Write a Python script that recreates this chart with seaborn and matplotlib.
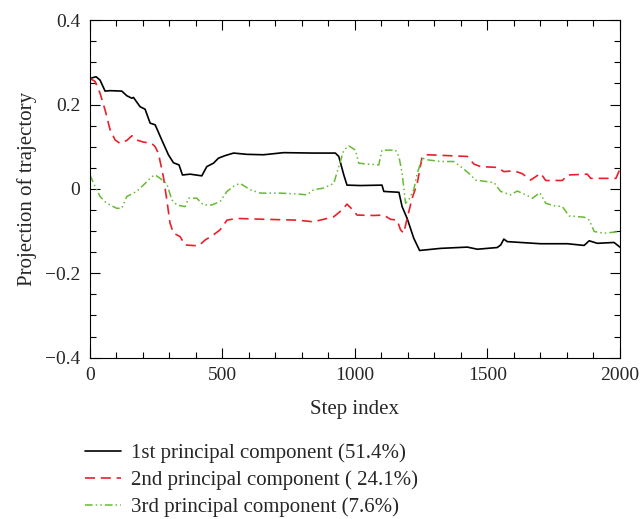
import pandas as pd
import matplotlib
matplotlib.use('Agg')
import matplotlib.pyplot as plt
from matplotlib.ticker import MultipleLocator
import seaborn as sns

# values
pc1_step = [0, 23, 38, 57, 76, 120, 139, 158, 164, 189, 208, 227, 246, 271, 296, 315, 336, 349,
            378, 422, 441, 466, 485, 510, 542, 592, 655, 731, 844, 926, 939, 958, 970, 1021,
            1102, 1109, 1166, 1178, 1197, 1222, 1244, 1323, 1424, 1462, 1537, 1550, 1562,
            1575, 1701, 1802, 1865, 1884, 1915, 1978, 2000]
pc1_val = [0.262, 0.266, 0.258, 0.232, 0.233, 0.232, 0.221, 0.215, 0.217, 0.195, 0.189, 0.156,
           0.152, 0.116, 0.081, 0.062, 0.057, 0.033, 0.035, 0.031, 0.053, 0.061, 0.073, 0.079,
           0.085, 0.082, 0.081, 0.086, 0.085, 0.085, 0.077, 0.033, 0.009, 0.008,
           0.009, -0.006, -0.008, -0.042, -0.070, -0.117, -0.146, -0.141, -0.138, -0.143,
           -0.139, -0.133, -0.119, -0.125, -0.130, -0.130, -0.134, -0.123, -0.129, -0.127, -0.138]

pc2_step = [0, 19, 38, 57, 76, 95, 113, 139, 158, 176, 202, 233, 246, 258, 277, 290, 302, 315,
            340, 359, 410, 435, 466, 491, 517, 554, 655, 781, 844, 920, 951, 970, 989, 1008,
            1071, 1109, 1134, 1159, 1172, 1184, 1197, 1216, 1235, 1254, 1273, 1424, 1449,
            1474, 1537, 1562, 1600, 1632, 1663, 1701, 1720, 1783, 1802, 1877, 1890, 1985, 2000]
pc2_val = [0.262, 0.255, 0.227, 0.187, 0.140, 0.116, 0.108, 0.115, 0.126, 0.116, 0.111, 0.108,
           0.100, 0.085, 0.029, -0.026, -0.081, -0.105, -0.113, -0.133, -0.135, -0.121,
           -0.109, -0.097, -0.074, -0.070, -0.072, -0.074, -0.078, -0.066, -0.050, -0.036,
           -0.048, -0.062, -0.063, -0.062, -0.072, -0.074, -0.097, -0.105, -0.070, -0.022,
           0.013, 0.077, 0.081, 0.077, 0.059, 0.053, 0.051, 0.041, 0.043, 0.036, 0.021, 0.037,
           0.020, 0.020, 0.033, 0.035, 0.025, 0.025, 0.047]

pc3_step = [0, 19, 38, 63, 101, 120, 139, 176, 208, 233, 246, 265, 290, 309, 328, 359, 372,
            403, 428, 460, 491, 517, 548, 567, 605, 643, 718, 781, 819, 844, 882, 920, 939,
            958, 977, 1002, 1014, 1046, 1090, 1102, 1153, 1166, 1178, 1191, 1203, 1222, 1235,
            1254, 1273, 1323, 1373, 1399, 1430, 1455, 1525, 1550, 1588, 1613, 1644, 1670,
            1698, 1720, 1751, 1783, 1808, 1865, 1884, 1903, 1940, 2000]
pc3_val = [0.033, 0.006, -0.018, -0.034, -0.046, -0.046, -0.018, -0.006, 0.013, 0.029, 0.033,
           0.025, 0.012, -0.026, -0.038, -0.042, -0.022, -0.022, -0.038, -0.038, -0.030,
           -0.006, 0.009, 0.013, -0.002, -0.010, -0.010, -0.012, -0.014, -0.002, 0.002, 0.013,
           0.053, 0.092, 0.102, 0.092, 0.061, 0.059, 0.057, 0.092, 0.092, 0.077, 0.037,
           -0.034, -0.026, -0.002, 0.037, 0.073, 0.069, 0.065, 0.065, 0.053, 0.037, 0.021,
           0.015, -0.006, -0.014, -0.005, -0.014, -0.022, -0.009, -0.034, -0.040, -0.042,
           -0.064, -0.067, -0.074, -0.101, -0.105, -0.101]

labels = ['1st principal component (51.4%)',
          '2nd principal component ( 24.1%)',
          '3rd principal component (7.6%)']
y_ticks = [-0.4, -0.2, 0, 0.2, 0.4]
y_tick_labels = ['\u22120.4', '\u22120.2', '0', '0.2', '0.4']

sns.set_style('ticks')
plt.rcParams['font.family'] = ['Liberation Serif', 'DejaVu Serif']

fig = plt.figure(figsize=(6.4, 5.19), dpi=100)
ax = fig.add_axes([0.1406, 0.311, 0.828, 0.650])

sns.lineplot(x=pc1_step, y=pc1_val, ax=ax, color='black', lw=1.2, label=labels[0])
sns.lineplot(x=pc2_step, y=pc2_val, ax=ax, color='#e8202a', lw=1.2, label=labels[1])
sns.lineplot(x=pc3_step, y=pc3_val, ax=ax, color='#66bb33', lw=1.1, label=labels[2])
ax.lines[1].set_dashes([6, 3.5])
ax.lines[2].set_dashes([5, 2, 1, 2, 1, 2])

ax.set_xlim(0, 2000)
ax.set_ylim(-0.4, 0.4)
ax.set_yticks(y_ticks)
ax.set_yticklabels(y_tick_labels)
ax.xaxis.set_major_locator(MultipleLocator(500))
ax.xaxis.set_minor_locator(MultipleLocator(100))
ax.yaxis.set_minor_locator(MultipleLocator(0.05))
ax.tick_params(which='both', direction='in', top=True, right=True, labelsize=14, color='black')
ax.tick_params(which='major', length=7, width=0.8, pad=7)
ax.tick_params(which='minor', length=4, width=0.8)
for s in ax.spines.values():
    s.set_linewidth(0.8)
    s.set_color('black')

ax.set_xlabel('Step index', fontsize=15, labelpad=11)
ax.set_ylabel('Projection of trajectory', fontsize=15, labelpad=6)

handles, lbls = ax.get_legend_handles_labels()
ax.get_legend().remove()
fig.legend(handles, lbls, loc='upper left', bbox_to_anchor=(0.133, 0.145),
           frameon=False, fontsize=15, handlelength=1.7, handletextpad=0.5,
           labelspacing=0.34, borderaxespad=0, borderpad=0)

fig.savefig('out.png', dpi=100)
